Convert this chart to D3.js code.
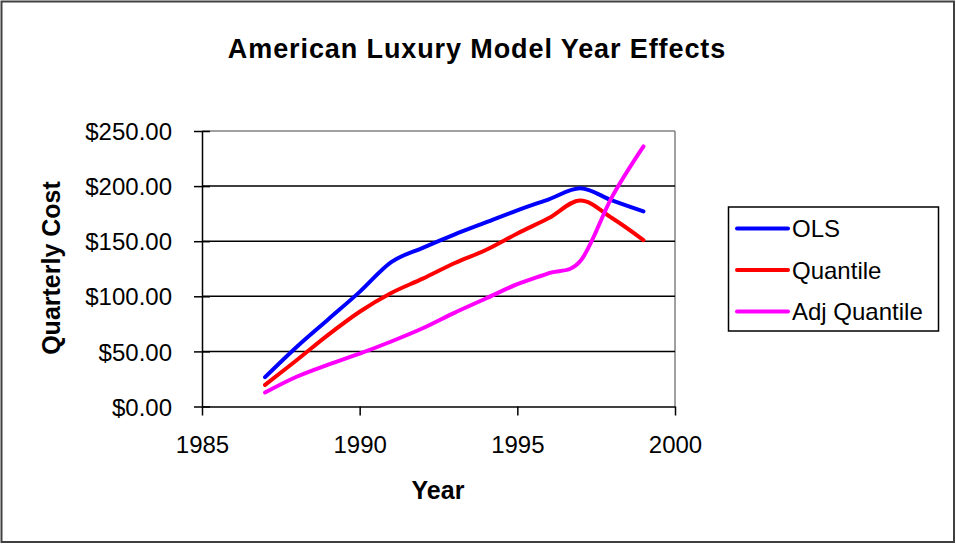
<!DOCTYPE html>
<html>
<head>
<meta charset="utf-8">
<script src="https://cdn.jsdelivr.net/npm/d3@7"></script>
<style>
  html, body { margin: 0; padding: 0; background: #fff; }
  svg { display: block; }
  text { font-family: Arial, "Liberation Sans", sans-serif; fill: #000; }
</style>
</head>
<body>
<svg id="chart" width="956" height="544"></svg>
<script>
// ---- Data ----
const years = [1987, 1988, 1989, 1990, 1991, 1992, 1993, 1994, 1995, 1996, 1997, 1998, 1999];
const olsValues = [26.6, 54, 79, 104, 131, 144, 156, 167, 178, 188, 198, 187, 177];
const quantileValues = [19.6, 42, 65, 86, 103, 116, 130, 142, 157, 171, 187, 171, 151];
const adjQuantileValues = [12.7, 27, 38, 48, 59, 71, 85, 98, 111, 121, 132, 190, 236];
const seriesNames = ["OLS", "Quantile", "Adj Quantile"];
const seriesColors = ["#0000ff", "#ff0000", "#ff00ff"];
const xTicks = [1985, 1990, 1995, 2000];
const yTicks = [0, 50, 100, 150, 200, 250];
const titleText = "American Luxury Model Year Effects";
const xTitle = "Year";
const yTitle = "Quarterly Cost";

const series = [olsValues, quantileValues, adjQuantileValues].map((vals, i) => ({
  name: seriesNames[i], color: seriesColors[i],
  points: years.map((y, j) => ({ x: y, y: vals[j] }))
}));

const svg = d3.select("#chart");

// outer border
svg.append("rect").attr("x", 1.5).attr("y", 1.5).attr("width", 952.5).attr("height", 540.5)
  .attr("fill", "#fff").attr("stroke", "#404040").attr("stroke-width", 2);

const plot = { left: 202, right: 675, top: 131, bottom: 406.5 };

const x = d3.scaleLinear().domain([1985, 2000]).range([plot.left, plot.right]);
const y = d3.scaleLinear().domain([0, 250]).range([plot.bottom, plot.top]);

// title
svg.append("text").attr("x", 477).attr("y", 58)
  .attr("text-anchor", "middle").style("font-size", "27px").style("font-weight", "bold")
  .style("letter-spacing", "0.9px").text(titleText);

// plot area border (top/right gray)
svg.append("line").attr("x1", plot.left).attr("x2", plot.right).attr("y1", plot.top).attr("y2", plot.top)
  .attr("stroke", "#808080").attr("stroke-width", 1.5);
svg.append("line").attr("x1", plot.right).attr("x2", plot.right).attr("y1", plot.top).attr("y2", plot.bottom)
  .attr("stroke", "#808080").attr("stroke-width", 1.5);

// gridlines
svg.append("g").selectAll("line").data(yTicks.filter(t => t > 0 && t < 250)).join("line")
  .attr("x1", plot.left).attr("x2", plot.right)
  .attr("y1", d => y(d)).attr("y2", d => y(d))
  .attr("stroke", "#000").attr("stroke-width", 1.5);

// y axis
const yAxis = d3.axisLeft(y).tickValues(yTicks).tickSizeInner(8).tickSizeOuter(0)
  .tickPadding(31).tickFormat(d => "$" + d3.format(".2f")(d));
const gy = svg.append("g").attr("transform", `translate(${plot.left},0)`).call(yAxis);
gy.select(".domain").attr("stroke", "#000").attr("stroke-width", 1.5);
gy.selectAll(".tick line").attr("stroke", "#000").attr("stroke-width", 1.5).attr("x2", 8).attr("x1", -8);
gy.selectAll(".tick text").style("font-size", "24px").style("font-family", "Arial, 'Liberation Sans', sans-serif")
  .attr("fill", "#000").attr("x", -30).attr("dy", "0.36em");

// x axis
const xAxis = d3.axisBottom(x).tickValues(xTicks).tickSizeInner(9).tickSizeOuter(0)
  .tickPadding(20).tickFormat(d3.format("d"));
const gx = svg.append("g").attr("transform", `translate(0,${plot.bottom})`).call(xAxis);
gx.select(".domain").attr("stroke", "#000").attr("stroke-width", 1.5);
gx.selectAll(".tick line").attr("stroke", "#000").attr("stroke-width", 1.5);
gx.selectAll(".tick text").style("font-size", "24px").style("font-family", "Arial, 'Liberation Sans', sans-serif")
  .attr("fill", "#000").attr("y", 46).attr("dy", 0);

// axis titles
svg.append("text").attr("x", 438).attr("y", 499).attr("text-anchor", "middle")
  .style("font-size", "25px").style("font-weight", "bold").text(xTitle);
svg.append("text").attr("transform", "translate(60,268) rotate(-90)").attr("text-anchor", "middle")
  .style("font-size", "25px").style("font-weight", "bold").text(yTitle);

// lines
const line = d3.line().x(d => x(d.x)).y(d => y(d.y)).curve(d3.curveCardinal.tension(0));
svg.append("g").selectAll("path").data(series).join("path")
  .attr("d", d => line(d.points))
  .attr("fill", "none").attr("stroke", d => d.color).attr("stroke-width", 4)
  .attr("stroke-linejoin", "round").attr("stroke-linecap", "round");

// legend
const lg = svg.append("g");
lg.append("rect").attr("x", 728.5).attr("y", 207).attr("width", 210).attr("height", 124)
  .attr("fill", "#fff").attr("stroke", "#000").attr("stroke-width", 1.5);
const rowY = d3.scalePoint().domain(seriesNames).range([228.5, 311.5]);
const items = lg.selectAll("g.item").data(series).join("g").attr("class", "item")
  .attr("transform", d => `translate(0,${rowY(d.name)})`);
items.append("line").attr("x1", 737).attr("x2", 788).attr("y1", 0).attr("y2", 0)
  .attr("stroke", d => d.color).attr("stroke-width", 4).attr("stroke-linecap", "round");
items.append("text").attr("x", 792).attr("y", 0).attr("dy", "0.36em")
  .style("font-size", "24px").text(d => d.name);
</script>
</body>
</html>
